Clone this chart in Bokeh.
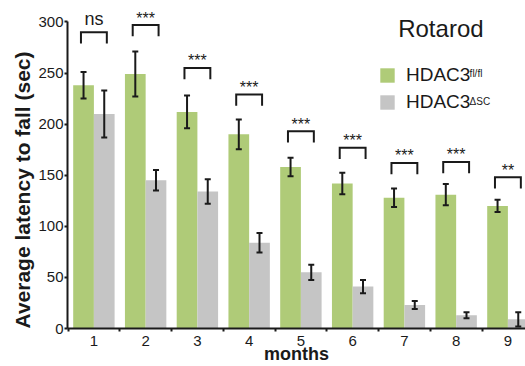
from bokeh.plotting import figure
from bokeh.models import (ColumnDataSource, FixedTicker, Whisker, TeeHead, Legend,
                          LegendItem, Label, Range1d, Title)
from bokeh.transform import dodge
from bokeh.core.properties import value
from bokeh.embed import file_html
from bokeh.resources import INLINE

# ---- data ----
months = [1, 2, 3, 4, 5, 6, 7, 8, 9]
fl_mean = [238, 249, 212, 190, 158, 142, 128, 131, 120]
fl_err = [13, 22, 16, 14.5, 9, 10.5, 9, 10.5, 6]
sc_mean = [210, 145, 134, 84, 55, 41, 23, 13, 9]
sc_err = [23, 10, 12, 9.5, 7.5, 6.5, 4, 3, 7]
bracket_top = [290, 297, 255, 229, 193, 177, 162, 163, 148]
sig = ["ns", "***", "***", "***", "***", "***", "***", "***", "**"]
y_ticks = [0, 50, 100, 150, 200, 250, 300]

GREEN = "#afcb78"
GRAY = "#c5c5c5"
INK = "#1a1a1a"
FONT = "Liberation Sans"

src = ColumnDataSource(dict(
    month=months, fl=fl_mean, sc=sc_mean,
    x_fl=[m - 0.2 for m in months], x_sc=[m + 0.2 for m in months],
    fl_up=[m + e for m, e in zip(fl_mean, fl_err)],
    fl_lo=[m - e for m, e in zip(fl_mean, fl_err)],
    sc_up=[m + e for m, e in zip(sc_mean, sc_err)],
    sc_lo=[m - e for m, e in zip(sc_mean, sc_err)],
))

p = figure(width=525, height=366, x_range=Range1d(0.49, 9.34), y_range=Range1d(0, 321),
           output_backend="svg", toolbar_location=None,
           min_border_left=67, min_border_right=0, min_border_top=0, min_border_bottom=38)
p.xgrid.visible = False
p.ygrid.visible = False
p.outline_line_color = None

r_fl = p.vbar(x=dodge("month", -0.2, range=p.x_range), top="fl", width=0.4, source=src,
              fill_color=GREEN, line_color=None)
r_sc = p.vbar(x=dodge("month", 0.2, range=p.x_range), top="sc", width=0.4, source=src,
              fill_color=GRAY, line_color=None)

for up, lo, xx in (("fl_up", "fl_lo", "x_fl"), ("sc_up", "sc_lo", "x_sc")):
    w = Whisker(source=src, base=xx, upper=up, lower=lo, dimension="height",
                line_color=INK, line_width=2, level="annotation",
                upper_head=TeeHead(size=6, line_color=INK, line_width=2),
                lower_head=TeeHead(size=6, line_color=INK, line_width=2))
    p.add_layout(w)

# significance brackets
leg = 11
bxs = [[m - 0.25, m - 0.25, m + 0.25, m + 0.25] for m in months]
bys = [[t - leg, t, t, t - leg] for t in bracket_top]
p.multi_line(bxs, bys, line_color=INK, line_width=2, line_join="miter")

star_idx = [i for i, s in enumerate(sig) if s != "ns"]
ns_idx = [i for i, s in enumerate(sig) if s == "ns"]
p.text(x=[months[i] for i in star_idx], y=[bracket_top[i] for i in star_idx],
       text=[sig[i] for i in star_idx], text_align="center", text_baseline="alphabetic",
       y_offset=-7, text_font=value(FONT), text_font_size="16px", text_color=INK)
p.text(x=[months[i] for i in ns_idx], y=[bracket_top[i] for i in ns_idx],
       text=[sig[i] for i in ns_idx], text_align="center", text_baseline="alphabetic",
       y_offset=-13, text_font=value(FONT), text_font_size="18px", text_color=INK)

# axes
p.yaxis.ticker = FixedTicker(ticks=y_ticks)
p.yaxis.bounds = (0, 300)
p.xaxis.axis_label = "months"
p.xaxis.ticker = FixedTicker(ticks=months, minor_ticks=[m - 0.5 for m in months])
for ax in (p.xaxis[0], p.yaxis[0]):
    ax.axis_line_color = INK
    ax.axis_line_width = 2
    ax.major_label_text_font = FONT
    ax.major_label_text_font_size = "15px"
    ax.major_label_text_color = INK
    ax.axis_label_text_font = FONT
    ax.axis_label_text_font_style = "bold"
    ax.axis_label_text_color = INK
p.yaxis.major_tick_out = 3
p.yaxis.major_tick_in = 0
p.yaxis.major_tick_line_width = 2
p.yaxis.major_tick_line_color = INK
p.yaxis.minor_tick_line_color = None
p.yaxis.major_label_standoff = 1
p.xaxis.major_tick_line_color = None
p.xaxis.major_tick_out = 0
p.xaxis.major_tick_in = 0
p.xaxis.minor_tick_out = 3
p.xaxis.minor_tick_in = 0
p.xaxis.minor_tick_line_width = 2
p.xaxis.minor_tick_line_color = INK
p.xaxis.major_label_standoff = 4
p.xaxis.axis_label_text_font_size = "18px"
p.xaxis.axis_label_standoff = -5

# y-axis title, drawn in the left panel and starting at the bottom as in the reference
p.add_layout(Title(text="Average latency to fall (sec)", align="left", offset=0,
                   standoff=4, text_font=FONT, text_font_size="21px",
                   text_font_style="bold", text_color=INK), "left")

# title and legend
p.add_layout(Label(x=6.88, y=307, text="Rotarod", text_font=FONT, text_font_size="24px",
                   text_color=INK, text_baseline="top"))
legend = Legend(items=[LegendItem(label="HDAC3", renderers=[r_fl]),
                       LegendItem(label="HDAC3", renderers=[r_sc])],
                location=(311, 215), glyph_width=18, glyph_height=18, label_standoff=10,
                spacing=5, padding=0, margin=0, border_line_color=None,
                background_fill_alpha=0, label_text_font=FONT, label_text_font_size="19px",
                label_text_color=INK, label_height=18)
p.add_layout(legend)
p.add_layout(Label(x=8.26, y=255.2, text="fl/fl", text_font=FONT, text_font_size="10px",
                   text_color=INK, text_baseline="top"))
p.add_layout(Label(x=8.26, y=227.6, text="\u0394SC", text_font=FONT, text_font_size="10px",
                   text_color=INK, text_baseline="top"))

open("out.html", "w").write(file_html(p, INLINE))
